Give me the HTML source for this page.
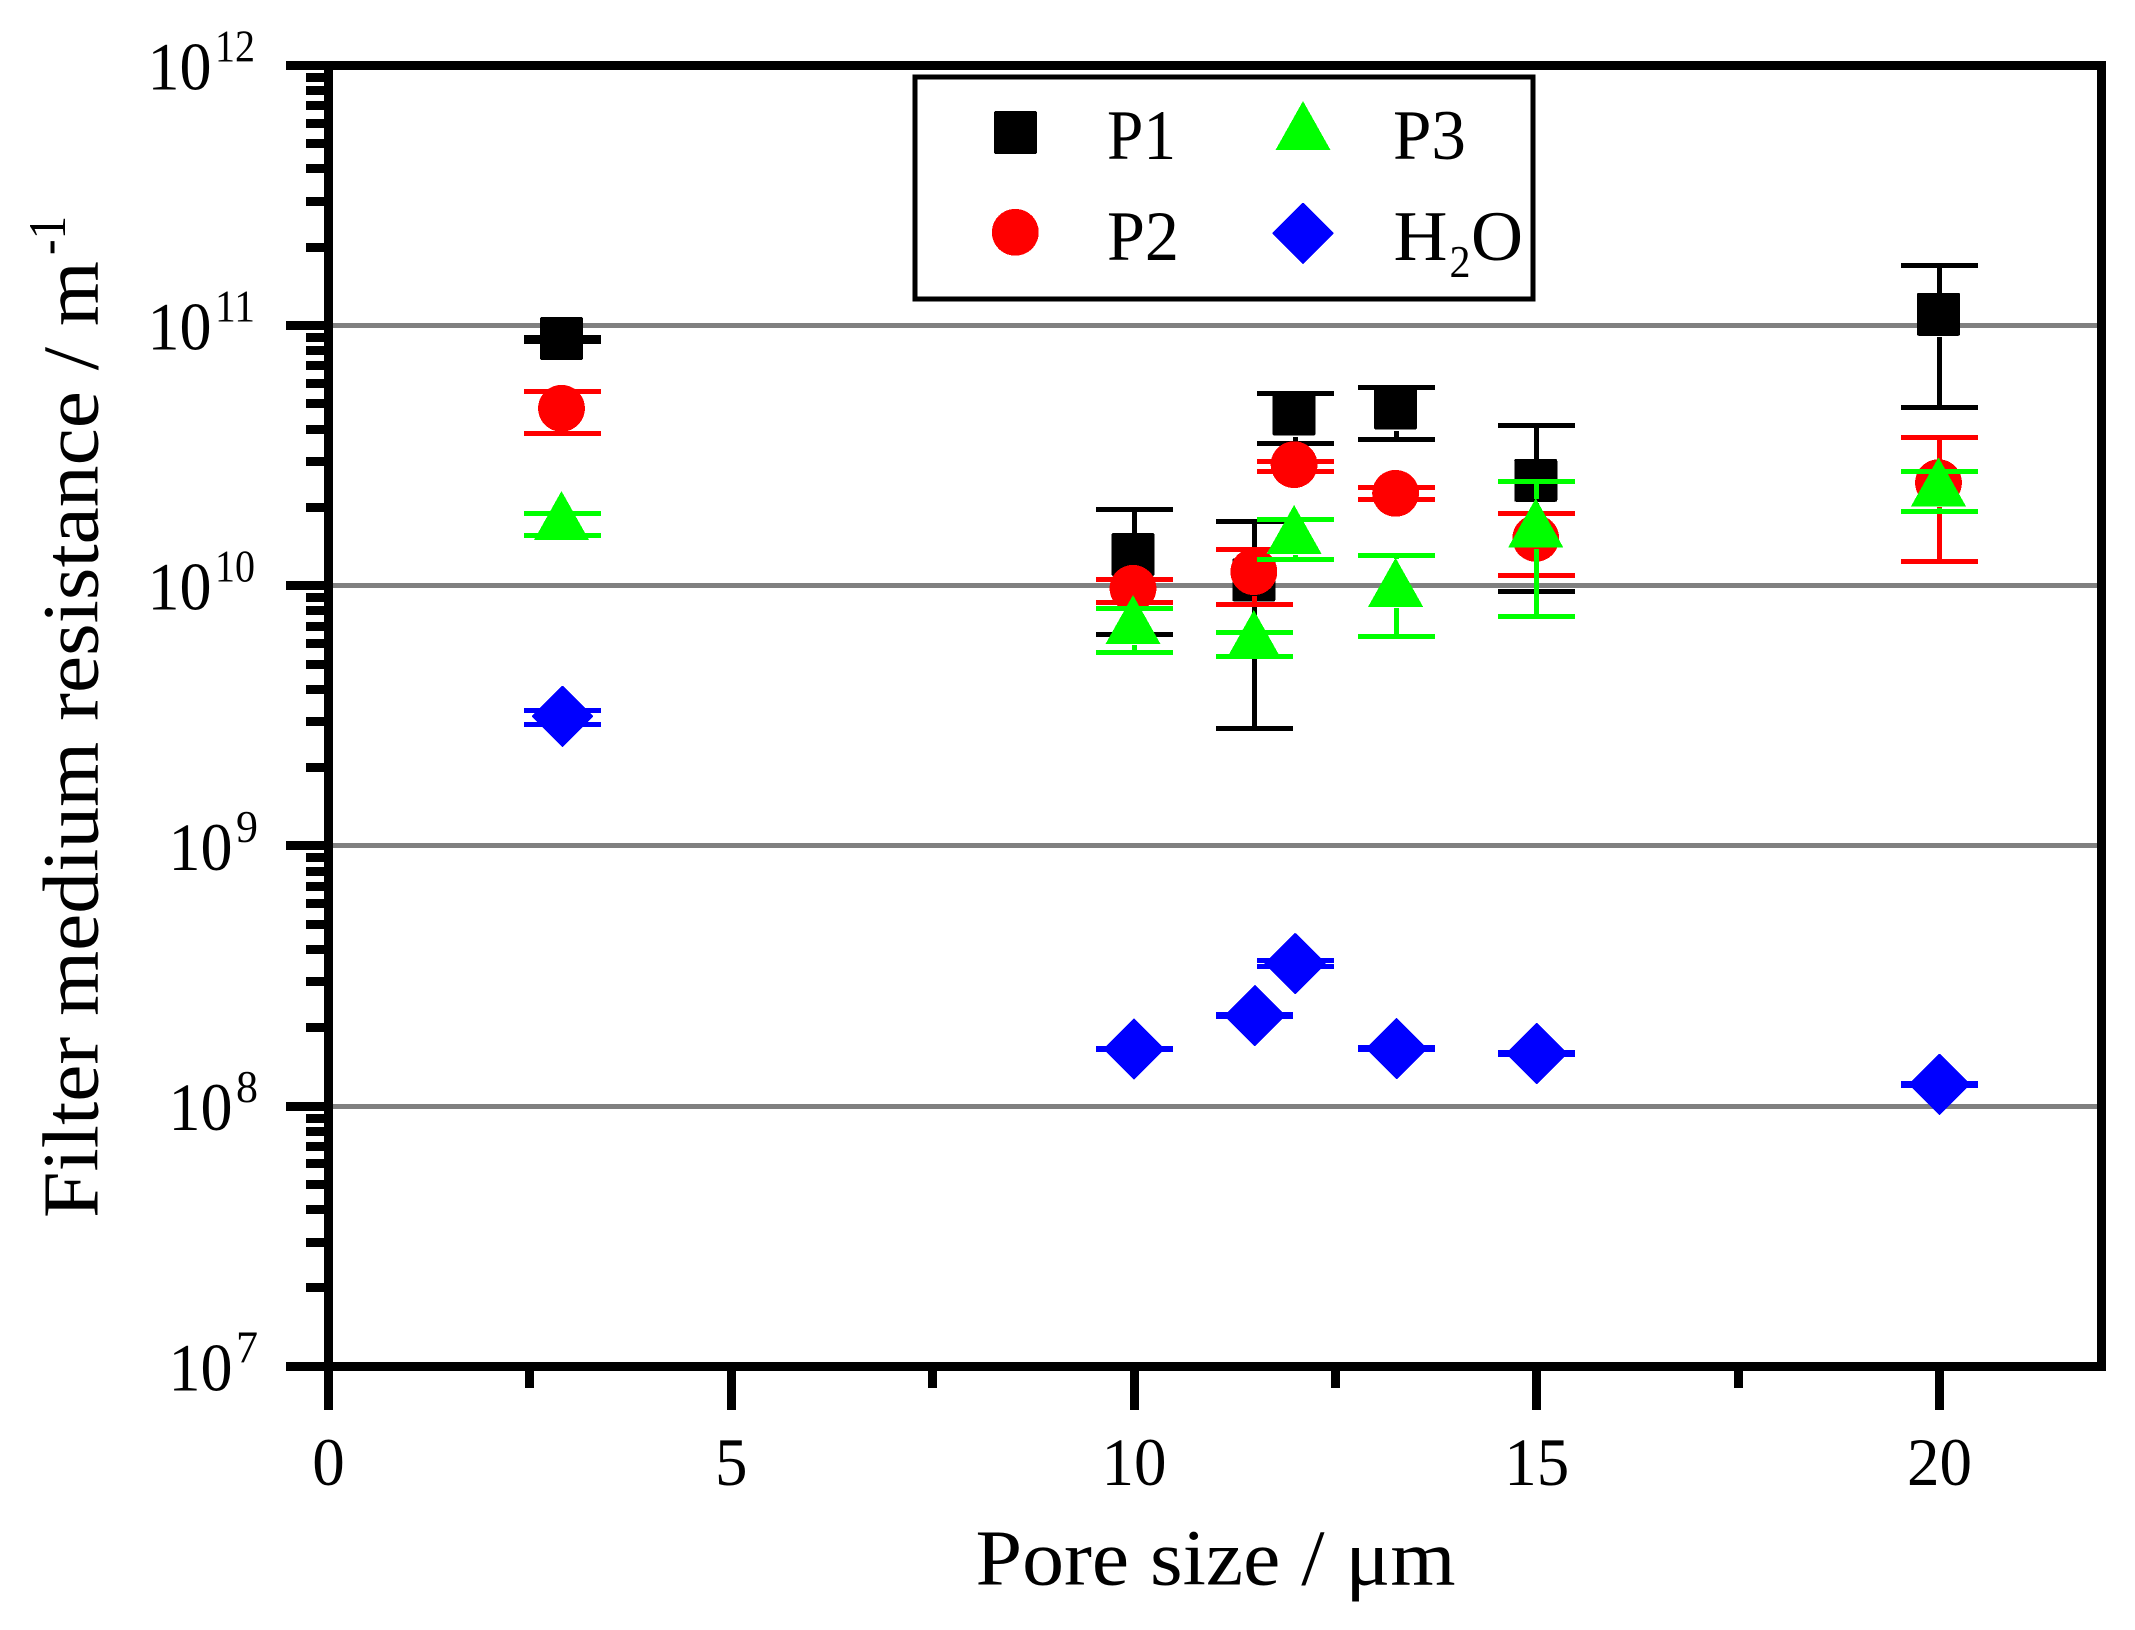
<!DOCTYPE html>
<html lang="en">
<head>
<meta charset="utf-8">
<title>Filter medium resistance vs pore size</title>
<style>
html,body{margin:0;padding:0;background:#fff;width:2135px;height:1630px;overflow:hidden}
svg{display:block}
text{font-family:"Liberation Serif",serif;fill:#000}
rect,polygon,circle{shape-rendering:crispEdges}
</style>
</head>
<body>
<svg id="chart" xmlns="http://www.w3.org/2000/svg" width="2135" height="1630" viewBox="0 0 2135 1630">
  <rect x="0" y="0" width="2135" height="1630" fill="#fff"/>
  <g id="grid"></g>
  <g id="series"></g>
  <g id="axes"></g>

  <g>
    <text transform="translate(97.7,1218) rotate(-90)" font-size="79" textLength="957" lengthAdjust="spacingAndGlyphs">Filter medium resistance / m</text>
    <text transform="translate(65,255) rotate(-90)" font-size="53" textLength="39" lengthAdjust="spacingAndGlyphs">-1</text>
  </g>
  <text x="975.5" y="1584.3" font-size="79" textLength="480" lengthAdjust="spacingAndGlyphs">Pore size / μm</text>

  <g>
    <rect x="915" y="77" width="618" height="222" fill="#fff" stroke="#000" stroke-width="5"/>
    <g>
      <rect x="994" y="111" width="43" height="43" rx="2" fill="#000"/>
      <text x="1107" y="159" font-size="71" textLength="69" lengthAdjust="spacingAndGlyphs">P1</text>
    </g>
    <g>
      <circle cx="1015.3" cy="232.3" r="23.4" fill="#f00"/>
      <text x="1107" y="260" font-size="71" textLength="72" lengthAdjust="spacingAndGlyphs">P2</text>
    </g>
    <g>
      <polygon points="1303,101 1330.5,150 1275.5,150" fill="#0f0"/>
      <text x="1393" y="159" font-size="71" textLength="73" lengthAdjust="spacingAndGlyphs">P3</text>
    </g>
    <g>
      <polygon points="1303,203.8 1332.5,233.3 1303,262.8 1273.5,233.3" fill="#00f" stroke="#00f" stroke-width="2" stroke-linejoin="round"/>
      <text x="1393.5" y="260" font-size="71" textLength="54" lengthAdjust="spacingAndGlyphs">H</text>
      <text x="1449.5" y="277" font-size="46" textLength="21" lengthAdjust="spacingAndGlyphs">2</text>
      <text x="1471" y="260" font-size="71" textLength="52" lengthAdjust="spacingAndGlyphs">O</text>
    </g>
  </g>
</svg>

<script>
// ---- Chart data ----
var poreSizes = [2.905, 10, 11.5, 12, 13.26, 15, 20];

var p1Values = [8.91e10, 1.318e10, 1.052e10, 4.57e10, 4.82e10, 2.542e10, 1.104e11];
var p1High   = [8.99e10, 1.966e10, 1.768e10, 5.488e10, 5.787e10, 4.134e10, 1.704e11];
var p1Low    = [8.68e10, 6.505e9, 2.832e9, 3.526e10, 3.653e10, 9.516e9, 4.85e10];

var p2Values = [4.806e10, 9.77e9, 1.132e10, 2.918e10, 2.265e10, 1.521e10, 2.488e10];
var p2High   = [5.577e10, 1.058e10, 1.38e10, 3.007e10, 2.388e10, 1.898e10, 3.718e10];
var p2Low    = [3.852e10, 8.63e9, 8.48e9, 2.753e10, 2.148e10, 1.096e10, 1.241e10];

var p3Values = [1.757e10, 7.0e9, 6.13e9, 1.553e10, 9.73e9, 1.647e10, 2.367e10];
var p3High   = [1.895e10, 8.19e9, 6.62e9, 1.8e10, 1.309e10, 2.519e10, 2.753e10];
var p3Low    = [1.56e10, 5.546e9, 5.353e9, 1.264e10, 6.39e9, 7.63e9, 1.932e10];

var h2oValues = [3.148e9, 1.658e8, 2.227e8, 3.532e8, 1.664e8, 1.592e8, 1.212e8];
var h2oHigh   = [3.314e9, 1.672e8, 2.247e8, 3.614e8, 1.678e8, 1.606e8, 1.223e8];
var h2oLow    = [2.928e9, 1.643e8, 2.208e8, 3.452e8, 1.649e8, 1.578e8, 1.201e8];

var xMajorTicks = [0, 5, 10, 15, 20];
var xMinorTicks = [2.5, 7.5, 12.5, 17.5];
var xTickLabels = ["0", "5", "10", "15", "20"];
var yExponents = [7, 8, 9, 10, 11, 12];
var yBaseLabel = "10";
var yMinorMultipliers = [2, 3, 4, 5, 6, 7, 8, 9];
var gridExponents = [8, 9, 10, 11];

// ---- Axis functions ----
var plotLeft = 328.5, pxPerX = 80.55;
var plotTop = 65.3, pxPerDecade = 260.2, topExponent = 12;
function xAxis(v) { return plotLeft + pxPerX * v; }
function yAxis(v) { return plotTop + pxPerDecade * (topExponent - Math.log10(v)); }

var NS = "http://www.w3.org/2000/svg";
function mk(tag, attrs, parent) {
  var el = document.createElementNS(NS, tag);
  for (var k in attrs) el.setAttribute(k, attrs[k]);
  parent.appendChild(el);
  return el;
}
function bar(x, y, w, h, color, parent) {
  // bars are snapped to whole pixels so their edges stay crisp
  var x0 = Math.round(x), y0 = Math.round(y);
  return mk("rect", { x: x0, y: y0, width: Math.round(x + w) - x0, height: Math.round(y + h) - y0, fill: color }, parent);
}
var gridG = document.getElementById("grid");
var seriesG = document.getElementById("series");
var axesG = document.getElementById("axes");

// ---- Gridlines ----
gridExponents.forEach(function (e) {
  var y = yAxis(Math.pow(10, e));
  var el = mk("rect", { x: 333, y: Math.round(y - 2.5), width: 1764, height: 5, fill: "#808080" }, gridG);
  
  
});

// ---- Frame and axis lines ----
function axisRect(x, y, w, h, name) {
  var el = mk("rect", { x: Math.round(x), y: Math.round(y), width: Math.round(w), height: Math.round(h), fill: "#000" }, axesG);
  
  
  return el;
}
var yBottom = yAxis(Math.pow(10, yExponents[0]));
var yTop = yAxis(Math.pow(10, yExponents[yExponents.length - 1]));
axisRect(324, yTop - 4.5, 9, 1410 - yTop + 4.5, "y-axis-line");
axisRect(2097, yTop - 4.5, 9, yBottom - yTop + 9, "right-frame-line");

// ---- Y ticks and labels ----
yExponents.forEach(function (e, i) {
  var y = yAxis(Math.pow(10, e));
  axisRect(286, y - 4.5, e === 7 || e === 12 ? 1820 : 42, 9, "y-major-tick-1e" + e);

  var twoDigit = String(e).length > 1;
  var baseX = twoDigit ? 147.5 : 168.5;
  var base = mk("text", { x: baseX, y: y + 24, "font-size": 68, textLength: 64, lengthAdjust: "spacingAndGlyphs" }, axesG);
  base.textContent = yBaseLabel;
  
  

  var sup = mk("text", { x: baseX + 67.5, y: y - 4, "font-size": 45, textLength: twoDigit ? 40 : 22, lengthAdjust: "spacingAndGlyphs" }, axesG);
  sup.textContent = String(e);
  
  

  if (i < yExponents.length - 1) {
    yMinorMultipliers.forEach(function (m) {
      axisRect(306, yAxis(m * Math.pow(10, e)) - 4.5, 22, 9, "y-minor-tick-" + m + "e" + e);
    });
  }
});

// ---- X ticks and labels ----
xMajorTicks.forEach(function (v, i) {
  var x = xAxis(v);
  axisRect(x - 4.5, yBottom, 9, 1410 - yBottom, "x-major-tick-" + v);
  var w = xTickLabels[i].length * 32.5;
  var t = mk("text", { x: x - w / 2, y: 1485, "font-size": 68, textLength: w, lengthAdjust: "spacingAndGlyphs" }, axesG);
  t.textContent = xTickLabels[i];
  
  
});
xMinorTicks.forEach(function (v) {
  axisRect(xAxis(v) - 4.5, yBottom, 9, 1388.7 - yBottom, "x-minor-tick-" + v);
});

// ---- Series: error bars then markers ----
function drawErr(g, sx, yHi, yLo, cTop, cBot, color, name) {
  // caps
  var capHi = bar(sx - 38.5, yHi - 2.5, 77, 5, color, g);
  
  
  var capLo = bar(sx - 38.5, yLo - 2.5, 77, 5, color, g);
  
  
  // stems stop at the marker edge (a small gap below the marker, as in the figure)
  if (yHi < cTop) {
    var s1 = bar(sx - 2.5, yHi, 5, cTop - yHi + 1, color, g);
    
    
  }
  if (yLo > cBot + 1.3) {
    var s2 = bar(sx - 2.5, cBot + 1.3, 5, yLo - cBot - 1.3, color, g);
    
    
  }
}

function drawSeries(key, vals, hi, lo, color, extents, drawMarker) {
  poreSizes.forEach(function (px, i) {
    var g = mk("g", {}, seriesG);
    
    
    var sx = xAxis(px), cy = yAxis(vals[i]);
    drawErr(g, sx, yAxis(hi[i]), yAxis(lo[i]), cy - extents[0], cy + extents[1], color, key);
    var m = drawMarker(g, sx, cy);
    
    
  });
}

drawSeries("p1", p1Values, p1High, p1Low, "#000", [21.5, 21.5], function (g, sx, cy) {
  return mk("rect", { x: sx - 22.5, y: cy - 21.5, width: 43, height: 43, rx: 2, fill: "#000" }, g);
});
drawSeries("p2", p2Values, p2High, p2Low, "#f00", [23.4, 23.4], function (g, sx, cy) {
  return mk("circle", { cx: sx - 1, cy: cy, r: 23.4, fill: "#f00" }, g);
});
drawSeries("p3", p3Values, p3High, p3Low, "#0f0", [31, 18], function (g, sx, cy) {
  var pts = [[sx - 1, cy - 31], [sx + 26.5, cy + 18], [sx - 28.5, cy + 18]].map(function (p) { return p.join(","); }).join(" ");
  return mk("polygon", { points: pts, fill: "#0f0" }, g);
});
drawSeries("h2o", h2oValues, h2oHigh, h2oLow, "#00f", [30.5, 30.5], function (g, sx, cy) {
  var pts = [[sx, cy - 29.5], [sx + 29.5, cy], [sx, cy + 29.5], [sx - 29.5, cy]].map(function (p) { return p.join(","); }).join(" ");
  return mk("polygon", { points: pts, fill: "#00f", stroke: "#00f", "stroke-width": 2, "stroke-linejoin": "round" }, g);
});
</script>
</body>
</html>
